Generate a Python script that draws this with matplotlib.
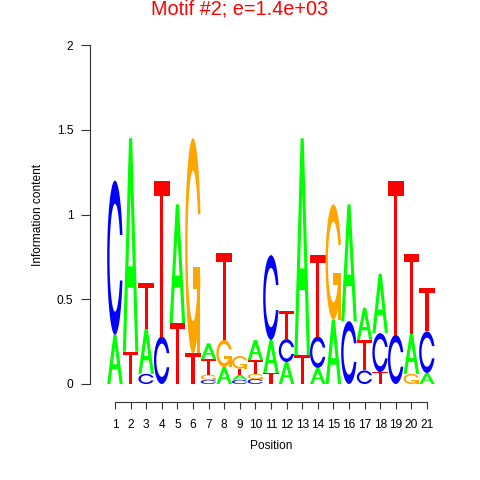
import matplotlib
matplotlib.use("Agg")
import matplotlib.pyplot as plt
from matplotlib.patches import Polygon
import numpy as np

plt.rcParams['font.family'] = ['Liberation Sans', 'DejaVu Sans']

title = "Motif #2; e=1.4e+03"
positions = list(range(1, 22))

# information content (bits) of each base at each position
bits_A = [0.29, 1.26, 0.265, 0, 0.70, 0, 0.095, 0.10, 0.03, 0.12, 0.195,
          0.13, 1.28, 0.095, 0.38, 0.69, 0.19, 0.35, 0, 0.235, 0.065]
bits_C = [0.91, 0, 0.06, 0.28, 0, 0, 0.025, 0, 0.025, 0.03, 0.50,
          0.135, 0, 0.185, 0, 0.37, 0.08, 0.23, 0.29, 0, 0.245]
bits_G = [0, 0, 0, 0, 0, 1.27, 0.03, 0.16, 0.075, 0.03, 0,
          0, 0, 0, 0.68, 0, 0, 0, 0, 0.06, 0]
bits_T = [0, 0.19, 0.27, 0.92, 0.36, 0.18, 0.09, 0.51, 0.035, 0.08, 0.065,
          0.165, 0.17, 0.48, 0, 0, 0.18, 0.07, 0.91, 0.47, 0.255]

colors = {'A': '#00FF00', 'C': '#0000FF', 'G': '#FFA500', 'T': '#FF0000'}


# letter outlines in a unit box, seqLogo style
def shape_A():
    x = np.array([0, 4, 6, 10, 8, 6.8, 3.2, 2, 0]) * 0.1
    y = np.array([0, 10, 10, 0, 0, 3, 3, 0, 0]) * 0.1
    hx = np.array([3.6, 5, 6.4, 3.6]) * 0.1
    hy = np.array([4, 7.5, 4, 4]) * 0.1
    return [(x, y, None), (hx, hy, 'white')]


def shape_T():
    x = np.array([0, 10, 10, 6, 6, 4, 4, 0]) * 0.1
    y = np.array([10, 10, 9, 9, 0, 0, 9, 9]) * 0.1
    return [(x, y, None)]


def ring():
    a1 = np.linspace(0.3 + np.pi / 2, np.pi, 100)
    a2 = np.linspace(np.pi, 1.5 * np.pi, 100)
    xl = np.concatenate([0.5 + 0.5 * np.sin(a1), 0.5 + 0.5 * np.sin(a2)])
    yl = np.concatenate([0.5 + 0.5 * np.cos(a1), 0.5 + 0.5 * np.cos(a2)])
    top = (0.5 + 0.5 * np.cos(a1)).max()
    x = np.concatenate([xl, xl[::-1]])
    y = np.concatenate([yl, 1 - yl[::-1]])
    xi1 = 0.5 + 0.35 * np.sin(a1)
    yi1 = 0.5 + 0.35 * np.cos(a1)
    keep = yi1 <= top
    xi1, yi1 = xi1[keep], yi1[keep]
    yi1[0] = top
    xi = np.concatenate([xi1, 0.5 + 0.35 * np.sin(a2)])
    yi = np.concatenate([yi1, 0.5 + 0.35 * np.cos(a2)])
    x1 = np.concatenate([xi, xi[::-1]])
    y1 = np.concatenate([yi, 1 - yi[::-1]])
    return np.concatenate([x, x1[::-1]]), np.concatenate([y, y1[::-1]]), (0.5 + 0.5 * np.sin(a1)).max()


def shape_C():
    x, y, _ = ring()
    return [(x, y, None)]


def shape_G():
    x, y, r1 = ring()
    h1 = 0.4
    xa = np.array([r1, 0.5, 0.5, r1 - 0.2, r1 - 0.2, r1, r1])
    ya = np.array([h1, h1, h1 - 0.1, h1 - 0.1, 0, 0, h1])
    return [(x, y, None), (xa, ya, None)]


shapes = {'A': shape_A(), 'C': shape_C(), 'G': shape_G(), 'T': shape_T()}

fig = plt.figure(figsize=(4.8, 4.8), dpi=100)
ax = fig.add_axes([0.2233, 0.2, 0.6825, 0.70625])

for i, p in enumerate(positions):
    col = [('A', bits_A[i]), ('C', bits_C[i]), ('G', bits_G[i]), ('T', bits_T[i])]
    col = sorted(col, key=lambda t: t[1])
    ybase = 0.0
    for base, h in col:
        if h <= 0:
            continue
        for sx, sy, fc in shapes[base]:
            pts = np.column_stack([p - 0.5 + sx, ybase + h * sy])
            ax.add_patch(Polygon(pts, closed=True, facecolor=fc or colors[base],
                                 edgecolor='none', lw=0))
        ybase += h

ax.set_xlim(0.5, 21.5)
ax.set_ylim(0, 2)
for s in ['top', 'right']:
    ax.spines[s].set_visible(False)
ax.spines['left'].set_position(('outward', 12.4))
ax.spines['bottom'].set_position(('outward', 13))
ax.spines['left'].set_bounds(0, 2)
ax.spines['bottom'].set_bounds(1, 21)
for s in ['left', 'bottom']:
    ax.spines[s].set_color('#333333')
    ax.spines[s].set_linewidth(0.8)

ax.set_xticks(positions)
ax.set_xticklabels([str(p) for p in positions])
ax.set_yticks([0, 0.5, 1, 1.5, 2])
ax.set_yticklabels(['0', '0.5', '1', '1.5', '2'])
ax.tick_params(axis='y', length=6.5, pad=5.5, labelsize=8.6, width=0.8, color='#333333')
ax.tick_params(axis='x', length=5, pad=7, labelsize=8.6, width=0.8, color='#333333')

fig.text(0.5, 1 - 9 / 480, title, color='red', ha='center', va='center', fontsize=14.3)
fig.text(271 / 480, 1 - 446 / 480, 'Position', ha='center', va='center', fontsize=8.6)
fig.text(38 / 480, 1 - 214.5 / 480, 'Information content', ha='center', va='center',
         rotation=90, fontsize=8.6)

fig.savefig('out.png', dpi=100)
